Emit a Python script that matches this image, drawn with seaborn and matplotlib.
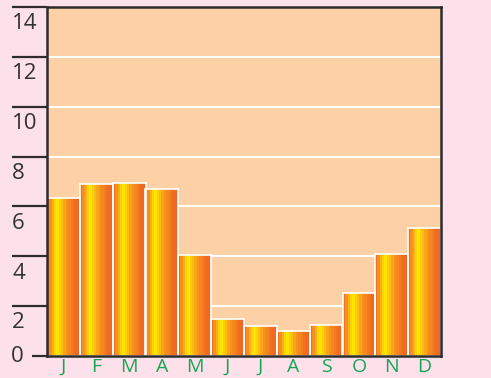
import numpy as np
import pandas as pd
import matplotlib
matplotlib.use("Agg")
import matplotlib.pyplot as plt
import matplotlib.transforms as mtransforms
from matplotlib.colors import LinearSegmentedColormap
import seaborn as sns

# valori
months = ["Jan", "Feb", "Mar", "Apr", "May", "Jun",
          "Jul", "Aug", "Sep", "Oct", "Nov", "Dec"]
month_labels = ["J", "F", "M", "A", "M", "J", "J", "A", "S", "O", "N", "D"]
rain = [6.35, 6.9, 6.93, 6.7, 4.06, 1.49, 1.2, 0.99, 1.24, 2.54, 4.1, 5.14]
y_ticks = [0, 2, 4, 6, 8, 10, 12, 14]

sns.set_style("white")
plt.rcParams["font.family"] = ["Open Sans", "DejaVu Sans"]

pink = "#fce0ea"
peach = "#fdd0a6"
dark = "#2e2b2c"
green = "#16a555"

fig = plt.figure(figsize=(4.91, 3.78), dpi=100, facecolor=pink)
W, H = 491, 378
ax = fig.add_axes([47 / W, (H - 356) / H, 394 / W, (356 - 7) / H])
ax.set_facecolor(peach)

df = pd.DataFrame({"month": months, "rain": rain})
sns.barplot(data=df, x="month", y="rain", width=1.0, color="orange",
            edgecolor="white", linewidth=1.2, ax=ax, zorder=3)

# sfumatura a bande verticali dentro le barre
cmap = LinearSegmentedColormap.from_list(
    "stripe",
    [(0.0, "#f0721e"), (0.12, "#f7a11a"), (0.28, "#ffe900"),
     (0.42, "#fcc70f"), (0.6, "#f7951d"), (0.82, "#f37421"), (1.0, "#ef6523")],
    N=14)
grad = np.linspace(0, 1, 256).reshape(1, -1)
for p in ax.patches:
    p.set_facecolor("none")
    x0, w, h = p.get_x(), p.get_width(), p.get_height()
    im = ax.imshow(grad, extent=[x0, x0 + w, 0, h], aspect="auto",
                   cmap=cmap, zorder=2, interpolation="nearest")
    im.set_clip_path(p)

ax.set_xlim(-0.5, 11.5)
ax.set_ylim(0, 14)
ax.set_aspect("auto")

ax.set_yticks(y_ticks)
ax.yaxis.grid(True, color="white", linewidth=1.5)
ax.set_axisbelow(True)
ax.tick_params(axis="y", length=0, labelleft=False)

ax.set_xticks(range(len(months)))
ax.set_xticklabels(month_labels, color=green, fontsize=14)
ax.tick_params(axis="x", length=0, pad=1.5)
ax.set_xlabel("")
ax.set_ylabel("")

for s in ax.spines.values():
    s.set_visible(True)
    s.set_color(dark)
    s.set_linewidth(1.8)
    s.set_zorder(5)

# tacche lunghe a sinistra con le etichette sotto
trans = mtransforms.blended_transform_factory(ax.transAxes, ax.transData)
for v in y_ticks:
    x_start = -35 / 394 if v > 0 else -15 / 394
    ax.plot([x_start, 0], [v, v], color=dark, linewidth=1.6,
            transform=trans, clip_on=False, solid_capstyle="butt")
    if v > 0:
        ax.annotate(str(v), xy=(-35 / 394, v), xycoords=trans,
                    xytext=(0, -4.5), textcoords="offset points",
                    ha="left", va="top", fontsize=16, color="#333333")
    else:
        ax.annotate(str(v), xy=(-36 / 394, v), xycoords=trans,
                    ha="left", va="center", fontsize=16, color="#333333")

fig.savefig("out.png", dpi=100, facecolor=pink)
